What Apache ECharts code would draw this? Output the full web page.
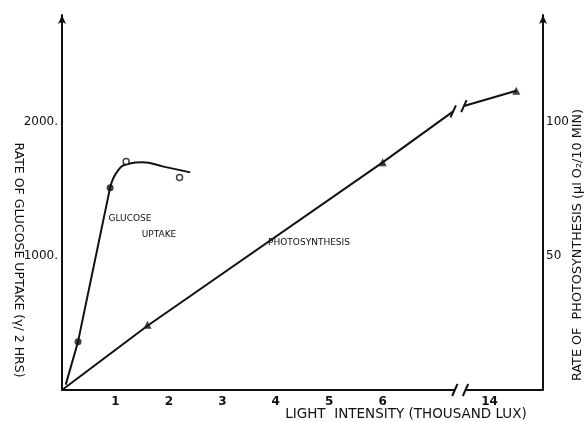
<!DOCTYPE html>
<html>
<head>
<meta charset="utf-8">
<script src="https://cdn.jsdelivr.net/npm/echarts@6/dist/echarts.min.js"></script>
<style>html,body{margin:0;padding:0;background:#fff}#c{width:587px;height:422px}</style>
</head>
<body>
<div id="c"></div>
<script>
// ---- data (x in thousand lux, left axis glucose uptake, right axis photosynthesis) ----
const xTickValues = [1, 2, 3, 4, 5, 6, 14];
const leftTicks = [1000, 2000];
const rightTicks = [50, 100];

const glucoseLineX = [0.07, 0.3, 0.9];
const glucoseLineY = [40, 361, 1511];
const glucoseCurveX = [0.9, 1.05, 1.25, 1.5, 1.9, 2.4];
const glucoseCurveY = [1511, 1640, 1690, 1700, 1668, 1625];
const glucoseDotX = [0.3, 0.9];
const glucoseDotY = [361, 1511];
const glucoseOpenX = [1.2, 2.2];
const glucoseOpenY = [1707, 1586];

const photoLineX = [0, 1.6, 6, 7.32];
const photoLineY = [0, 24, 85, 104];
const photoLine2X = [13.52, 14.5];
const photoLine2Y = [106, 111.7];
const photoPointX = [1.6, 6, 14.5];
const photoPointY = [24.4, 85, 111.7];

// axis break: lux above the break are shifted left by 6 thousand lux
const BREAK_AT = 7.45, BREAK_SHIFT = 6;
const pos = v => v > BREAK_AT ? v - BREAK_SHIFT : v;
const unpos = p => p > BREAK_AT ? p + BREAK_SHIFT : p;
const pts = (xs, ys) => xs.map((x, i) => [pos(x), ys[i]]);

const FONT = '"DejaVu Sans", sans-serif';
const chart = echarts.init(document.getElementById('c'), null, {renderer: 'canvas'});
const blk = '#111';

const option = {
  animation: false,
  backgroundColor: '#fff',
  grid: {left: 62, right: 44, top: 15, bottom: 32},
  xAxis: {
    type: 'value', min: 0, max: 9, interval: 1,
    axisLine: {lineStyle: {color: blk, width: 2}},
    axisTick: {show: false},
    splitLine: {show: false},
    axisLabel: {
      color: blk, fontFamily: FONT, fontSize: 12, fontWeight: 'bold', margin: 6,
      formatter: v => { const l = unpos(v); return xTickValues.includes(l) ? String(l) : ''; }
    }
  },
  yAxis: [{
    type: 'value', min: 0, max: 2800, interval: 1000, position: 'left',
    axisLine: {show: true, lineStyle: {color: blk, width: 2}, symbol: ['none', 'arrow'], symbolSize: [6, 9]},
    axisTick: {show: false}, splitLine: {show: false},
    axisLabel: {color: blk, fontFamily: FONT, fontSize: 12, margin: 4,
      formatter: v => leftTicks.includes(v) ? v + '.' : ''}
  }, {
    type: 'value', min: 0, max: 140, interval: 50, position: 'right',
    axisLine: {show: true, lineStyle: {color: blk, width: 2}, symbol: ['none', 'arrow'], symbolSize: [6, 9]},
    axisTick: {show: false}, splitLine: {show: false},
    axisLabel: {color: blk, fontFamily: FONT, fontSize: 12, margin: 3,
      formatter: v => rightTicks.includes(v) ? String(v) : ''}
  }],
  series: [
    {type: 'line', data: pts(glucoseLineX, glucoseLineY), showSymbol: false, lineStyle: {color: blk, width: 2}, z: 3},
    {type: 'line', data: pts(glucoseCurveX, glucoseCurveY), smooth: 0.5, showSymbol: false, lineStyle: {color: blk, width: 2}, z: 3},
    {type: 'scatter', data: pts(glucoseDotX, glucoseDotY), symbol: 'circle', symbolSize: 7, itemStyle: {color: blk}, z: 4},
    {type: 'scatter', data: pts(glucoseOpenX, glucoseOpenY), symbol: 'circle', symbolSize: 6,
      itemStyle: {color: '#fff', borderColor: blk, borderWidth: 1.5}, z: 4},
    {type: 'line', yAxisIndex: 1, data: pts(photoLineX, photoLineY), showSymbol: false, lineStyle: {color: blk, width: 2}, z: 3},
    {type: 'line', yAxisIndex: 1, data: pts(photoLine2X, photoLine2Y), showSymbol: false, lineStyle: {color: blk, width: 2}, z: 3},
    {type: 'scatter', yAxisIndex: 1, data: pts(photoPointX, photoPointY), symbol: 'triangle', symbolSize: 8, itemStyle: {color: blk}, z: 4}
  ]
};
chart.setOption(option);

// decorations: labels, axis titles and break marks
const px = (x, y, idx) => chart.convertToPixel({xAxisIndex: 0, yAxisIndex: idx || 0}, [x, y]);
const g = [];
const slash = (p, h) => ({type: 'line', shape: {x1: p[0] - h * 0.45, y1: p[1] + h, x2: p[0] + h * 0.45, y2: p[1] - h},
  style: {stroke: blk, lineWidth: 2}, z: 10});
const axY = px(0, 0)[1];
const b1 = px(7.35, 0), b2 = px(7.55, 0);
g.push({type: 'rect', shape: {x: b1[0], y: axY - 3, width: b2[0] - b1[0], height: 6}, style: {fill: '#fff'}, z: 9});
g.push(slash([b1[0], axY], 6), slash([b2[0], axY], 6));
g.push(slash(px(pos(photoLineX[3]), photoLineY[3], 1), 6));
g.push(slash(px(pos(photoLine2X[0]), photoLine2Y[0], 1), 6));

const txt = (text, x, y, size, rot) => ({type: 'text', x, y, rotation: rot || 0,
  style: {text, fill: blk, font: size + 'px ' + FONT, align: 'center', verticalAlign: 'middle',
    textAlign: 'center', textVerticalAlign: 'middle'}, z: 10});
g.push(txt('GLUCOSE', 130, 219, 9));
g.push(txt('UPTAKE', 159, 235, 9));
g.push(txt('PHOTOSYNTHESIS', 309, 243, 9));
g.push(txt('LIGHT  INTENSITY (THOUSAND LUX)', 406, 414, 13.5));
g.push(txt('RATE OF GLUCOSE UPTAKE (γ/ 2 HRS)', 18, 260, 12.5, -Math.PI / 2));
g.push(txt('RATE OF  PHOTOSYNTHESIS (μl O\u2082/10 MIN)', 578, 245, 12.8, Math.PI / 2));
chart.setOption({graphic: g});
</script>
</body>
</html>
